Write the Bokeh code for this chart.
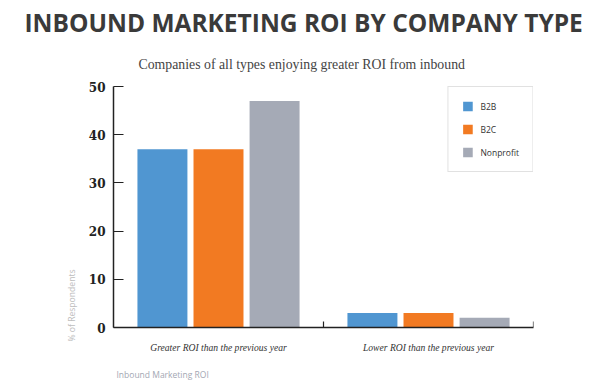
import math
from bokeh.plotting import figure
from bokeh.models import ColumnDataSource, FactorRange, Range1d, Title, Legend, LegendItem, FixedTicker
from bokeh.transform import dodge
from bokeh.embed import file_html
from bokeh.resources import INLINE

# ---- data ----
categories = ["Greater ROI than the previous year", "Lower ROI than the previous year"]
series = ["B2B", "B2C", "Nonprofit"]
b2b = [37, 3]
b2c = [37, 3]
nonprofit = [47, 2]
y_ticks = [0, 10, 20, 30, 40, 50]
title_text = "INBOUND MARKETING ROI BY COMPANY TYPE"
subtitle_text = "Companies of all types enjoying greater ROI from inbound"
y_label_text = "% of Respondents"
footer_text = "Inbound Marketing ROI"

colors = ["#5096d1", "#f27a22", "#a5aab6"]

source = ColumnDataSource(dict(cat=categories, B2B=b2b, B2C=b2c, Nonprofit=nonprofit))

p = figure(width=610, height=391, x_range=FactorRange(*categories), y_range=Range1d(0, 50),
           output_backend="svg", toolbar_location=None,
           min_border_left=113, min_border_right=77, min_border_top=86, min_border_bottom=64)
p.title = None
p.outline_line_color = None
p.grid.visible = False
p.background_fill_color = "white"
p.border_fill_color = "white"

offsets = [-0.267, 0.0, 0.267]
items = []
for name, off, col in zip(series, offsets, colors):
    r = p.vbar(x=dodge("cat", off, range=p.x_range), top=name, width=0.238, source=source,
               fill_color=col, line_color=None)
    items.append(LegendItem(label=name, renderers=[r]))

# boundary ticks on the category axis
p.ray(x=dodge("cat", 0.5, range=p.x_range), y=0, length=6, length_units="screen",
      angle=math.pi / 2, line_color="#222222", line_width=1.2, source=source)

legend = Legend(items=items, location="top_right", margin=0, padding=13, spacing=11,
                glyph_width=12, glyph_height=12, label_height=12, label_standoff=7,
                label_text_font="Open Sans", label_text_font_size="8.5px", label_text_color="#333333",
                border_line_color="#c4c4c4", border_line_width=1, background_fill_alpha=1)
p.add_layout(legend)

p.yaxis.ticker = FixedTicker(ticks=y_ticks)
p.yaxis.major_tick_in = 10
p.yaxis.major_tick_out = 0
p.yaxis.minor_tick_line_color = None
p.yaxis.axis_line_width = 1.5
p.yaxis.axis_line_color = "#222222"
p.yaxis.major_tick_line_color = "#222222"
p.yaxis.major_label_standoff = 8
p.yaxis.major_label_text_font = "DejaVu Serif"
p.yaxis.major_label_text_font_style = "bold"
p.yaxis.major_label_text_font_size = "12px"
p.yaxis.major_label_text_color = "#222222"

p.xaxis.major_tick_line_color = None
p.xaxis.axis_line_width = 1.5
p.xaxis.axis_line_color = "#222222"
p.xaxis.major_label_standoff = 8
p.xaxis.major_label_text_font = "Liberation Serif"
p.xaxis.major_label_text_font_style = "italic"
p.xaxis.major_label_text_font_size = "9.6px"
p.xaxis.major_label_text_color = "#333333"

# subtitle (closest to frame) then main title
p.add_layout(Title(text=subtitle_text, align="left", offset=25, standoff=29,
                   text_font="Liberation Serif", text_font_style="normal",
                   text_font_size="13.8px", text_color="#444444"), "above")
p.add_layout(Title(text=title_text, align="left", offset=-89, standoff=4,
                   text_font="Open Sans", text_font_style="bold",
                   text_font_size="24.5px", text_color="#3a3a3a"), "above")
p.add_layout(Title(text=y_label_text, align="left", offset=-14, standoff=16,
                   text_font="Open Sans", text_font_style="normal",
                   text_font_size="8.6px", text_color="#bdbdbd"), "left")
p.add_layout(Title(text=footer_text, align="left", offset=3, standoff=23,
                   text_font="Open Sans", text_font_style="normal",
                   text_font_size="8.5px", text_color="#a3a7b3"), "below")

open("out.html", "w").write(file_html(p, INLINE))
